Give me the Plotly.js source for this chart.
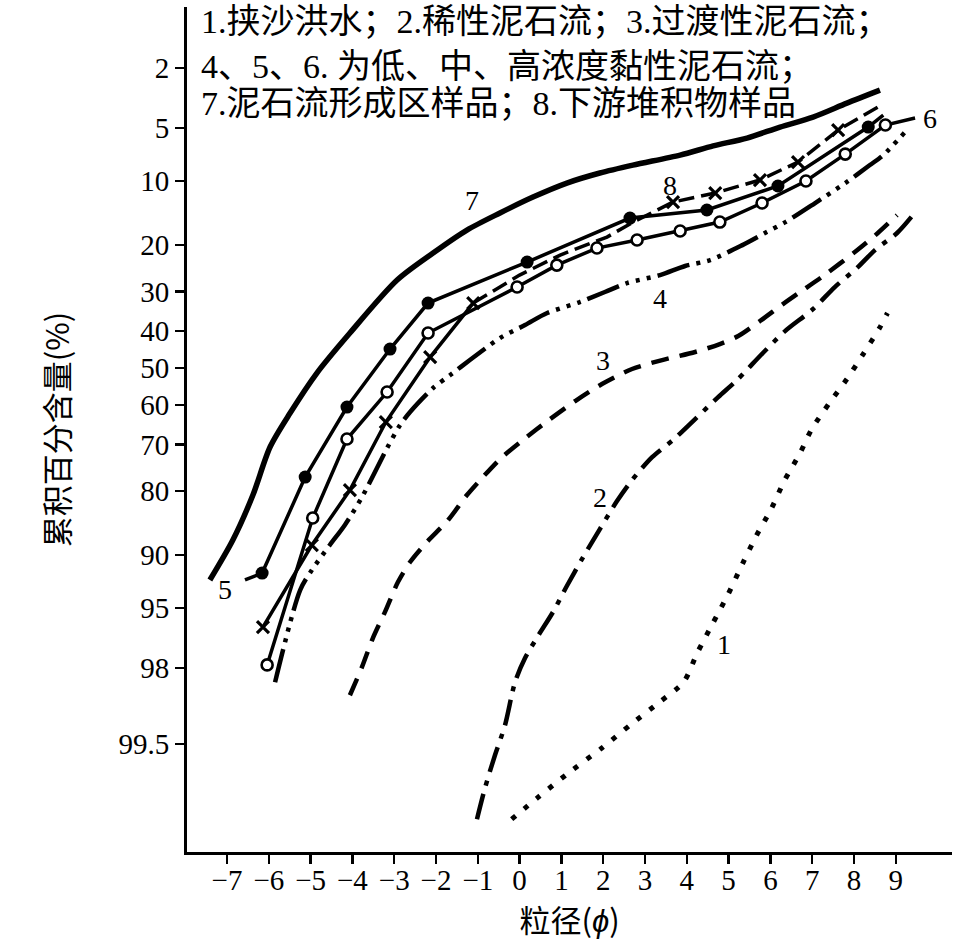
<!DOCTYPE html>
<html><head><meta charset="utf-8">
<script src="https://cdn.plot.ly/plotly-3.0.1.min.js"></script>
<style>html,body{margin:0;padding:0;background:#fff}#chart{width:954px;height:941px}</style>
</head><body><div id="chart"></div>
<script>
// ---------- data (x = grain size phi, y = cumulative percent) ----------
const phi1 = [-0.19,0.41,1.13,1.96,2.68,3.32,3.92,4.25,4.60,4.99,5.34,5.66,6.03,6.33,6.71,6.99,7.41,7.83,8.22,8.61,8.80];
const pct1 = [99.90,99.84,99.73,99.54,99.26,98.91,98.43,97.45,96.08,93.92,90.92,87.51,83.12,78.05,71.97,66.20,59.48,52.99,46.18,39.20,35.31];

const phi2 = [-1.02,-0.83,-0.59,-0.35,-0.11,0.13,0.44,0.80,1.13,1.52,1.92,2.33,2.69,3.17,3.67,4.15,4.75,5.20,5.82,6.35,7.02,7.54,8.07,8.50,9.03,9.41];
const pct2 = [99.90,99.80,99.60,99.28,98.43,97.65,96.68,95.26,93.23,90.23,86.50,81.89,77.85,72.91,68.90,64.17,57.89,53.27,45.90,40.01,34.31,28.95,24.67,20.96,17.75,14.73];

const phi3 = [-4.06,-3.77,-3.51,-3.22,-2.91,-2.62,-2.22,-1.71,-1.26,-0.92,-0.44,0.11,0.70,1.33,1.97,2.69,3.41,4.20,4.79,5.23,5.75,6.30,6.71,7.26,8.05,8.57,9.03];
const pct3 = [98.75,97.97,96.78,95.26,92.87,90.80,88.34,85.11,80.78,77.64,73.10,68.66,63.91,58.94,54.37,50.27,47.82,45.63,43.47,41.33,37.37,33.07,30.13,26.43,21.15,17.75,14.73];

const phi4 = [-5.85,-5.25,-4.97,-4.54,-4.18,-3.77,-3.17,-2.86,-2.62,-2.07,-1.66,-1.19,-0.47,0.13,0.66,1.44,2.04,2.57,3.36,3.96,4.56,5.33,5.87,6.36,7.07,7.79,8.38,8.70,9.22];
const pct4 = [98.43,93.58,91.68,88.73,85.88,81.16,70.82,65.19,61.84,55.45,51.91,47.82,41.86,38.41,35.31,32.56,30.13,28.02,26.21,24.23,22.97,19.99,17.75,15.87,12.92,10.26,8.22,7.23,5.30];

const phi5 = [-6.57,-6.16,-5.13,-4.13,-3.10,-2.19,0.18,2.64,4.48,6.18,8.34,8.70];
const pct5 = [92.67,91.99,77.24,60.53,44.83,32.81,23.39,15.21,13.95,10.62,4.94,4.16];

const phi6 = [-6.04,-4.95,-4.13,-3.17,-2.19,-0.06,0.89,1.85,2.81,3.84,4.79,5.80,6.85,7.79,8.75,9.46];
const pct6 = [97.90,84.79,68.66,56.53,40.52,28.95,24.04,20.56,19.03,17.40,15.87,12.92,10.01,7.14,4.80,4.34];

const phi7 = [-7.41,-6.86,-6.38,-5.97,-5.49,-4.85,-4.06,-2.93,-2.07,-1.26,-0.47,0.32,1.13,1.92,2.71,3.84,4.63,5.44,6.23,7.02,7.83,8.62];
const pct7 = [92.67,88.06,80.78,70.57,62.10,51.36,40.52,27.33,21.54,17.23,14.41,12.08,10.26,9.08,8.23,7.23,6.41,5.76,4.94,4.28,3.48,2.85];

const phi8 = [-6.14,-4.97,-4.06,-3.20,-2.14,-1.11,0.00,0.97,2.09,2.72,3.67,4.68,5.75,6.66,7.62,8.70];
const pct8 = [96.20,88.73,79.84,64.43,47.01,32.81,26.21,21.95,18.48,15.87,12.78,11.53,9.89,7.91,5.16,3.53];

const xTickVals = [-7,-6,-5,-4,-3,-2,-1,0,1,2,3,4,5,6,7,8,9];
const xTickText = ["\u22127","\u22126","\u22125","\u22124","\u22123","\u22122","\u22121","0","1","2","3","4","5","6","7","8","9"];
const yTickPct  = [2,5,10,20,30,40,50,60,70,80,90,95,98,99.5];
const yTickText = ["2","5","10","20","30","40","50","60","70","80","90","95","98","99.5"];

const legendLines = [
  "1.挟沙洪水；2.稀性泥石流；3.过渡性泥石流；",
  "4、5、6. 为低、中、高浓度黏性泥石流；",
  "7.泥石流形成区样品；8.下游堆积物样品"
];

// ---------- probability-scale transform (inverse normal CDF) ----------
function probit(p){
  const a=[-3.969683028665376e+01,2.209460984245205e+02,-2.759285104469687e+02,1.383577518672690e+02,-3.066479806614716e+01,2.506628277459239e+00];
  const b=[-5.447609879822406e+01,1.615858368580409e+02,-1.556989798598866e+02,6.680131188771972e+01,-1.328068155288572e+01];
  const c=[-7.784894002430293e-03,-3.223964580411365e-01,-2.400758277161838e+00,-2.549732539343734e+00,4.374664141464968e+00,2.938163982698783e+00];
  const d=[7.784695709041462e-03,3.224671290700398e-01,2.445134137142996e+00,3.754408661907416e+00];
  const pl=0.02425, ph=1-pl;
  let q,r;
  if(p<pl){ q=Math.sqrt(-2*Math.log(p));
    return (((((c[0]*q+c[1])*q+c[2])*q+c[3])*q+c[4])*q+c[5])/((((d[0]*q+d[1])*q+d[2])*q+d[3])*q+1); }
  if(p<=ph){ q=p-0.5; r=q*q;
    return (((((a[0]*r+a[1])*r+a[2])*r+a[3])*r+a[4])*r+a[5])*q/(((((b[0]*r+b[1])*r+b[2])*r+b[3])*r+b[4])*r+1); }
  q=Math.sqrt(-2*Math.log(1-p));
  return -(((((c[0]*q+c[1])*q+c[2])*q+c[3])*q+c[4])*q+c[5])/((((d[0]*q+d[1])*q+d[2])*q+d[3])*q+1);
}
const Z = arr => arr.map(v => probit(v/100));

const K = '#000';
function line(x, y, width, dash, shape){
  return {type:'scatter', mode:'lines', x:x, y:Z(y), hoverinfo:'skip',
    line:{color:K, width:width, dash:dash||'solid', shape:shape||'linear', smoothing:0.8}};
}
function marks(x, y, marker){
  return {type:'scatter', mode:'markers', x:x, y:Z(y), hoverinfo:'skip', marker:marker};
}
const dotMark   = {symbol:'circle', size:13, color:K, line:{width:0}};
const openMark  = {symbol:'circle', size:11, color:'#fff', line:{color:K, width:2.6}};
const crossMark = {symbol:'x-thin', size:12, color:K, line:{color:K, width:3.2}};

const traces = [
  line(phi1, pct1, 5, '5px,11px', 'spline'),
  line(phi2, pct2, 4.5, '26px,9px,5px,9px', 'spline'),
  line(phi3, pct3, 4.5, '18px,11px', 'spline'),
  line(phi4, pct4, 4.5, '34px,7px,4px,7px,4px,7px,4px,7px', 'spline'),
  line(phi7, pct7, 5.5, 'solid', 'spline'),
  line(phi8.slice(0,6), pct8.slice(0,6), 3.5),
  line(phi8.slice(5), pct8.slice(5), 3.5, '16px,7px'),
  line(phi6, pct6, 3.5),
  line(phi5, pct5, 3.5),
  marks(phi8.slice(0,6).concat(phi8.slice(10,15)), pct8.slice(0,6).concat(pct8.slice(10,15)), crossMark),
  marks(phi6.slice(0,15), pct6.slice(0,15), openMark),
  marks(phi5.slice(1,11), pct5.slice(1,11), dotMark)
];

// curve number labels, anchored to a point of their curve
const lblFont = {family:'Liberation Serif, serif', size:28, color:K};
function lbl(t, x, y, dx, dy){
  return {text:t, x:x, y:probit(y/100), xref:'x', yref:'y', showarrow:false,
          xshift:dx, yshift:dy, font:lblFont};
}
const annotations = [
  lbl('1', phi1[8], pct1[8], 12, -20),
  lbl('2', phi2[10], pct2[10], 0, 32),
  lbl('3', phi3[14], pct3[14], 1, 24),
  lbl('4', phi4[18], pct4[18], 0, -23),
  lbl('5', phi5[0], pct5[0], -20, -10),
  lbl('6', phi6[15], pct6[15], 15, 0),
  lbl('7', phi7[9], pct7[9], 5, 30),
  lbl('8', phi8[10], pct8[10], -3, 17)
];
const legY = [0.983, 0.929, 0.886];
legendLines.forEach((t,i) => annotations.push({
  text:t, xref:'paper', yref:'paper', x:0.016, y:legY[i], xanchor:'left', yanchor:'middle',
  showarrow:false, font:{family:'Liberation Serif, Noto Sans CJK SC, serif', size:34, color:K}
}));

const tickFont = {family:'Liberation Serif, serif', size:29, color:K};
const layout = {
  width:954, height:941,
  margin:{l:187, r:2, t:7, b:89, pad:0},
  paper_bgcolor:'#fff', plot_bgcolor:'#fff',
  showlegend:false,
  xaxis:{
    range:[-7.957, 10.344], tickmode:'array', tickvals:xTickVals, ticktext:xTickText,
    ticks:'outside', ticklen:9, tickwidth:2.5, tickcolor:K, ticklabelstandoff:-9,
    showline:true, linewidth:3, linecolor:K, showgrid:false, zeroline:false,
    tickfont:tickFont,
    title:{text:'粒径(<i>ϕ</i>)', font:{family:'Noto Sans CJK SC, sans-serif', size:31, color:K}, standoff:10}
  },
  yaxis:{
    range:[3.315, -2.473], tickmode:'array', tickvals:yTickPct.map(v=>probit(v/100)), ticktext:yTickText,
    ticks:'outside', ticklen:9, tickwidth:2.5, tickcolor:K,
    showline:true, linewidth:3, linecolor:K, showgrid:false, zeroline:false,
    tickfont:tickFont,
    title:{text:'累积百分含量(%)', font:{family:'Noto Sans CJK SC, sans-serif', size:31, color:K}, standoff:40}
  },
  annotations:annotations
};

Plotly.newPlot('chart', traces, layout, {staticPlot:true, displayModeBar:false});
</script>
</body></html>
